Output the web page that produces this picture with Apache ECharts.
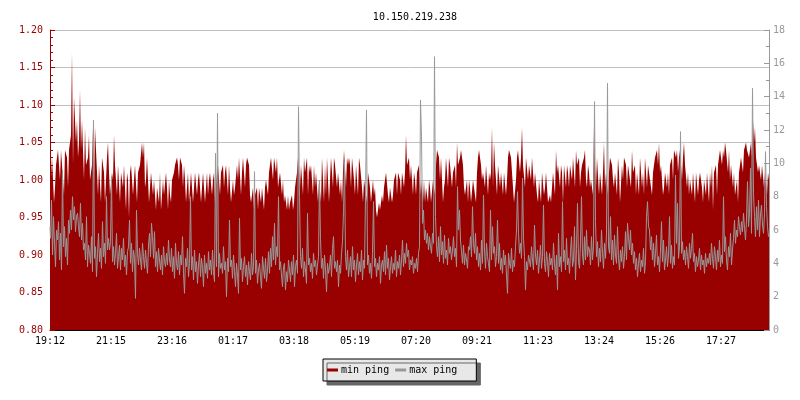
<!DOCTYPE html>
<html>
<head>
<meta charset="utf-8">
<script src="https://cdn.jsdelivr.net/npm/echarts@6/dist/echarts.min.js"></script>
<style>html,body{margin:0;padding:0;background:#fff}#c{width:800px;height:400px}</style>
</head>
<body>
<div id="c"></div>
<script>
var titleText = '10.150.219.238';
var tickLabels = ['19:12','21:15','23:16','01:17','03:18','05:19','07:20','09:21','11:23','13:24','15:26','17:27'];
var leftTicks = [0.80, 1.20, 0.05];
var rightTicks = [0, 18, 2];

var minPing = [
0.98,0.98,1.03,1.03,0.97,0.99,1.02,1.02,1.04,1.04,1.00,1.04,1.02,1.02,0.98,1.04,1.04,1.03,0.99,1.04,
1.05,1.06,1.17,1.02,1.11,1.11,1.05,1.08,1.03,1.05,1.12,1.04,1.08,1.08,1.00,1.07,1.02,1.02,1.03,1.06,
1.00,1.00,1.02,1.07,0.99,1.07,1.04,1.04,0.98,1.02,1.02,0.97,1.03,1.03,1.01,0.97,1.00,1.03,1.05,1.01,
0.98,0.98,1.01,1.00,1.06,1.02,1.02,0.98,1.02,1.02,0.97,1.01,1.01,0.99,1.02,1.02,0.96,1.01,1.00,0.95,
1.01,1.02,1.02,0.98,1.00,1.02,1.02,0.97,1.01,1.01,1.02,1.02,1.05,1.03,1.05,0.99,1.00,1.03,1.03,0.97,
0.97,1.01,1.01,0.98,1.00,1.00,0.96,0.99,0.99,0.97,1.01,0.96,0.96,1.00,0.98,0.98,1.01,0.99,0.96,1.00,
0.98,0.97,1.00,1.00,1.01,1.02,1.02,1.03,1.02,1.00,1.03,1.03,1.02,0.99,1.02,1.00,0.97,0.97,1.01,0.97,
0.99,1.01,1.01,0.97,0.99,1.01,1.01,0.98,1.00,1.01,1.01,0.97,0.99,1.01,1.01,0.97,0.99,1.01,0.98,1.00,
1.01,1.01,0.98,1.00,1.01,0.97,0.97,1.01,1.02,1.02,0.98,1.01,1.01,1.02,0.99,1.01,1.02,1.02,0.98,1.02,
0.99,0.97,0.97,1.00,0.98,0.99,0.99,1.02,1.00,1.03,1.03,0.98,1.01,1.03,1.03,0.99,1.02,1.03,1.03,1.02,
0.98,0.97,0.97,0.99,0.96,0.98,0.98,0.99,0.96,0.99,0.99,0.97,0.99,0.99,0.96,0.99,1.00,1.00,0.98,1.01,
1.02,1.03,1.03,1.00,1.03,1.03,1.01,1.03,0.99,1.00,1.01,1.01,0.98,1.00,0.97,0.98,0.98,0.96,0.98,0.96,
0.97,0.97,0.98,0.96,0.97,0.99,0.99,1.01,1.03,1.03,0.99,1.02,1.02,0.98,1.03,1.01,1.01,1.03,0.98,1.02,
1.01,1.02,1.02,0.98,1.02,0.99,1.01,1.01,0.97,1.00,1.00,0.97,1.03,1.03,0.97,1.02,0.98,1.03,1.03,0.97,
1.00,1.03,1.03,0.99,1.03,1.02,1.02,0.99,1.01,1.01,0.98,1.00,0.97,1.01,1.04,1.04,0.99,1.03,1.02,1.03,
1.02,0.99,1.03,1.03,1.00,0.98,1.02,1.02,0.98,1.03,1.02,1.02,0.99,0.97,1.00,1.00,0.98,0.97,1.01,1.00,
0.99,0.97,0.97,1.00,0.98,0.99,0.96,0.95,0.95,0.97,0.96,0.96,0.98,0.97,0.99,1.00,1.01,1.01,0.98,0.97,
0.99,0.99,0.97,0.98,1.00,1.00,1.01,0.98,1.01,1.01,1.00,0.98,1.01,1.01,0.99,1.01,1.06,1.02,1.02,1.03,
1.00,1.02,1.02,0.98,1.01,1.00,0.98,1.01,1.01,1.02,0.98,1.00,1.00,0.97,1.00,0.97,0.99,0.99,0.97,1.00,
0.99,0.97,0.97,1.00,1.00,0.98,1.02,1.04,1.04,1.03,1.00,1.03,1.03,0.97,0.99,1.00,1.03,1.03,0.99,1.03,
1.02,1.02,0.99,1.01,1.01,1.02,0.99,1.05,1.02,1.02,1.03,1.04,1.04,1.02,0.99,0.98,0.98,1.00,0.97,1.00,
0.99,0.97,0.97,1.00,0.99,0.99,0.97,1.01,1.03,1.04,1.04,1.02,1.00,1.01,1.01,0.99,1.02,1.02,0.98,1.01,
1.00,1.01,1.07,0.99,1.05,1.02,1.02,0.98,1.02,1.02,0.99,1.01,1.01,0.98,1.01,1.01,0.98,1.00,1.03,1.04,
1.04,1.03,1.03,0.99,0.97,0.97,1.00,1.03,1.04,1.04,1.01,1.03,1.07,1.02,1.02,0.99,1.03,1.03,1.00,1.02,
1.02,1.00,1.03,1.03,0.99,1.01,1.01,0.98,0.97,1.00,1.00,0.97,1.01,1.01,0.98,0.99,1.01,1.01,0.97,0.97,
0.98,0.97,0.99,1.01,1.01,0.98,1.04,1.01,1.02,1.02,0.99,1.02,1.01,0.97,1.02,1.02,0.99,1.02,1.01,0.99,
1.02,1.02,1.00,1.03,1.01,0.99,1.04,1.02,1.02,1.03,0.99,1.01,1.02,1.02,1.03,1.04,1.00,0.99,1.02,1.01,
0.99,1.00,1.00,0.98,1.07,1.02,0.99,1.03,1.03,0.98,1.01,1.01,0.98,1.01,1.05,0.99,1.01,1.01,0.98,1.01,
1.03,1.03,1.02,1.00,0.99,1.01,1.01,0.98,1.03,1.01,0.97,0.97,1.02,1.00,1.03,1.03,1.02,0.99,1.02,1.02,
1.00,0.99,1.04,1.01,1.01,1.02,0.98,1.01,1.01,0.98,1.03,1.03,0.99,1.01,0.98,1.03,1.03,0.99,1.02,1.01,
1.01,0.99,0.98,1.01,1.02,1.03,1.03,1.04,1.02,1.05,1.01,1.02,1.02,0.98,0.99,1.01,1.01,0.99,1.01,0.98,
1.02,1.02,1.03,1.00,1.04,1.04,1.03,1.04,1.01,1.03,1.04,1.04,1.00,1.03,1.05,1.02,1.02,0.99,1.01,0.98,
1.00,1.00,0.98,1.01,0.99,0.97,1.01,1.01,0.98,1.00,1.01,1.01,0.99,0.97,1.00,1.00,0.98,1.01,1.01,0.97,
1.01,0.99,1.02,0.96,1.01,1.01,1.02,0.98,1.02,1.03,1.04,1.04,1.02,1.04,1.03,1.05,1.04,1.04,1.01,1.04,
1.00,1.02,1.02,0.99,1.01,0.98,0.98,1.00,0.97,1.01,1.02,1.03,1.03,1.01,1.04,1.04,1.05,1.04,1.04,1.03,
1.04,1.05,1.03,1.08,1.05,1.07,1.03,1.03,1.01,1.02,1.02,1.00,1.02,1.02,0.99,1.01,1.01,0.98,1.01,1.00
];

var maxPing = [
6.2,5.5,7.8,4.5,6.8,5.2,3.8,6.0,5.4,6.5,4.2,5.8,3.6,9.6,5.0,6.2,4.4,5.5,3.9,6.6,
5.8,7.2,6.0,8.0,6.6,7.4,5.9,6.8,7.0,6.2,5.6,7.6,5.4,6.4,4.8,5.2,4.2,6.8,3.8,5.1,
4.6,4.0,5.6,3.5,12.6,4.3,5.0,3.2,4.6,5.8,4.1,4.9,3.7,6.5,4.4,5.2,4.0,8.0,4.8,5.5,
4.8,5.3,9.2,4.1,5.0,3.9,4.6,5.8,3.7,4.4,5.1,3.6,4.9,4.2,5.5,3.8,4.5,3.3,4.7,5.0,
6.6,4.0,5.2,3.5,4.8,4.3,1.9,7.2,4.6,3.9,4.9,4.2,3.6,5.2,4.4,3.7,4.8,4.0,3.4,5.1,
5.8,4.4,6.4,5.6,4.3,5.9,3.8,4.7,3.5,4.9,4.2,3.6,4.5,3.3,5.0,4.1,3.8,4.6,3.9,5.4,
4.2,3.8,4.9,3.5,4.4,3.1,5.2,4.0,3.6,4.7,3.3,4.5,3.9,5.6,3.4,2.2,4.3,3.8,4.9,3.2,
4.0,8.0,3.6,4.4,3.0,4.8,3.5,4.1,2.8,3.9,4.6,3.2,4.3,3.7,2.6,4.5,3.4,4.0,3.1,4.7,
3.6,4.2,3.3,4.8,3.5,2.9,10.6,3.8,13.0,3.2,4.6,3.7,4.0,3.4,5.0,3.6,4.1,2.0,4.3,3.5,
6.6,3.8,4.2,3.1,4.5,3.5,2.6,4.0,3.3,2.2,6.7,3.6,4.3,2.9,3.8,4.4,3.2,3.9,2.7,4.1,
3.5,3.0,4.6,3.3,3.8,9.5,3.4,4.2,2.8,3.6,4.0,3.2,2.5,4.4,3.7,3.1,4.3,2.9,3.6,4.7,
3.4,4.9,3.8,5.6,4.2,6.4,3.9,5.0,4.4,8.0,3.6,4.1,3.3,2.6,3.8,4.0,2.4,3.5,2.9,4.2,
3.6,2.9,4.1,3.3,4.5,2.6,3.8,4.2,3.4,13.4,8.0,4.4,3.7,4.9,3.2,4.1,3.6,2.8,7.0,3.9,
4.3,3.5,4.0,3.1,4.6,3.8,4.2,3.3,3.9,4.4,9.0,5.5,3.7,4.3,3.1,4.5,3.6,2.3,4.0,3.4,
3.8,4.5,3.2,4.9,5.6,3.7,4.1,3.5,4.2,2.6,3.9,3.4,4.6,5.3,7.1,10.1,4.4,3.6,4.8,3.2,
3.8,4.4,3.2,5.0,3.6,4.2,2.9,3.9,4.6,3.3,4.1,3.5,4.8,3.0,4.2,3.7,8.0,13.2,3.9,4.5,
3.4,4.0,3.1,4.6,7.7,3.8,4.3,3.2,4.0,3.6,4.4,2.8,3.9,4.2,3.5,4.7,3.3,5.1,3.7,4.3,
3.0,3.8,4.4,3.4,4.0,3.6,4.8,3.2,4.1,3.7,4.5,3.3,4.2,5.4,3.8,4.6,4.0,5.2,4.4,4.8,
3.6,4.2,3.9,4.4,3.4,4.0,3.7,4.3,3.5,4.6,5.0,13.8,11.6,6.4,7.2,5.4,6.0,5.2,5.8,4.8,
5.6,5.0,4.6,5.8,5.2,16.4,6.8,5.0,4.4,5.6,4.1,6.2,4.5,5.3,4.0,5.7,4.3,4.8,3.9,5.5,
4.6,5.0,4.2,4.8,5.6,4.4,4.9,3.8,8.6,6.0,7.2,5.4,4.7,4.0,5.1,3.9,4.6,4.2,3.7,5.0,
4.8,5.6,4.4,7.4,5.2,4.6,5.8,4.2,5.0,3.8,4.6,3.6,5.4,4.0,8.1,4.8,3.7,5.2,4.4,4.0,
3.5,7.2,4.2,6.2,4.6,5.0,3.8,4.4,6.6,4.0,5.2,3.6,4.3,3.4,4.8,3.9,4.5,3.3,2.2,4.6,
4.0,3.7,4.9,3.5,4.2,3.8,5.0,6.0,8.3,5.8,4.6,5.2,4.3,9.1,5.5,4.4,2.4,4.1,3.6,4.5,
4.4,3.8,5.0,4.2,3.6,6.3,4.5,3.9,4.8,3.4,4.2,5.1,3.7,4.4,7.5,4.0,3.5,4.7,4.1,3.2,
4.6,3.9,4.3,3.6,5.2,4.0,3.3,4.5,2.4,5.8,3.8,4.4,3.5,7.7,4.1,4.8,3.6,5.5,3.9,4.3,
3.4,4.7,5.6,3.8,4.2,6.2,3.0,4.9,7.6,4.1,3.7,5.3,8.0,4.5,3.9,5.6,4.2,6.0,4.4,5.0,
4.8,3.9,5.6,4.2,5.0,13.7,6.5,4.4,5.3,3.8,4.9,4.1,6.0,4.6,3.7,5.2,4.3,5.8,14.8,5.0,
4.6,6.8,4.2,5.4,3.9,5.7,4.5,4.0,6.2,4.3,3.6,4.8,4.1,5.0,3.7,4.4,5.9,4.2,6.4,5.5,
4.8,6.0,4.5,5.2,4.0,4.7,3.6,4.3,3.2,4.0,4.6,3.5,4.2,3.8,4.9,3.4,4.1,6.8,7.7,6.2,
6.0,4.8,5.6,4.2,5.2,3.8,4.6,5.7,3.9,4.4,3.5,4.8,6.5,4.1,5.4,3.6,4.2,5.0,3.8,4.5,
6.8,4.0,5.1,3.7,4.4,3.9,9.3,5.2,7.6,4.3,5.0,11.9,4.6,5.3,4.2,4.8,3.9,5.0,4.4,3.7,
5.2,4.3,4.9,5.8,4.1,4.6,3.5,4.4,3.8,4.2,4.9,3.6,4.5,3.9,4.2,3.4,4.6,3.8,4.3,4.0,
4.6,3.9,5.2,4.3,3.7,5.0,4.4,3.6,4.8,4.1,5.4,3.8,4.5,4.0,8.0,4.7,5.6,4.2,3.6,5.0,
4.4,5.8,3.9,4.8,5.5,6.6,5.2,6.0,5.6,6.8,6.2,5.7,6.5,5.9,7.0,6.1,5.4,6.6,8.9,6.2,
7.0,9.7,5.8,14.5,8.2,6.8,5.6,7.4,6.0,7.8,5.6,6.9,7.5,6.3,5.8,7.0,10.7,7.4,6.2,5.6
];

var RED = '#990000';
var GRAY = '#999999';
var FONT = 'DejaVu Sans Mono';
var labelStep = 61;
var categories = minPing.map(function (v, i) { return String(i); });

var chart = echarts.init(document.getElementById('c'), null, {renderer: 'canvas'});
chart.setOption({
  animation: false,
  backgroundColor: '#ffffff',
  title: {
    text: titleText, left: 410, top: 7, textAlign: 'center',
    textStyle: {fontFamily: FONT, fontSize: 10, fontWeight: 'normal', color: '#000'}
  },
  legend: {
    left: 323, top: 359,
    padding: [6, 19, 6, 4],
    itemGap: 6, itemWidth: 11, itemHeight: 3,
    backgroundColor: '#e8e8e8', borderColor: '#000', borderWidth: 1,
    shadowColor: '#666666', shadowBlur: 0, shadowOffsetX: 4, shadowOffsetY: 4,
    textStyle: {fontFamily: FONT, fontSize: 10, color: '#000', padding: [0, 0, 0, -2]},
    data: [
      {name: 'min ping', icon: 'rect', itemStyle: {color: RED}},
      {name: 'max ping', icon: 'rect', itemStyle: {color: GRAY}}
    ]
  },
  grid: {left: 50, right: 31, top: 30, bottom: 70, containLabel: false},
  xAxis: {
    type: 'category', data: categories, boundaryGap: false,
    axisLine: {lineStyle: {color: '#000', width: 1}},
    axisTick: {inside: true, length: 5, interval: labelStep - 1, lineStyle: {color: '#000'}},
    axisLabel: {
      interval: labelStep - 1, margin: 6, color: '#000', fontFamily: FONT, fontSize: 10,
      formatter: function (v, i) { return tickLabels[Math.round(i / labelStep)] || ''; }
    },
    splitLine: {show: false}
  },
  yAxis: [
    {
      type: 'value', min: leftTicks[0], max: leftTicks[1], interval: leftTicks[2], position: 'left',
      axisLine: {show: true, lineStyle: {color: RED}},
      axisTick: {show: true, inside: true, length: 5, lineStyle: {color: RED}},
      minorTick: {show: true, splitNumber: 5, length: 3, lineStyle: {color: RED}},
      axisLabel: {color: RED, fontFamily: FONT, fontSize: 10, margin: 7,
        formatter: function (v) { return v.toFixed(2); }},
      splitLine: {show: true, lineStyle: {color: '#c0c0c0', width: 1}}
    },
    {
      type: 'value', min: rightTicks[0], max: rightTicks[1], interval: rightTicks[2], position: 'right',
      axisLine: {show: true, lineStyle: {color: GRAY}},
      axisTick: {show: true, inside: true, length: 5, lineStyle: {color: GRAY}},
      minorTick: {show: true, splitNumber: 2, length: 3, lineStyle: {color: GRAY}},
      axisLabel: {color: GRAY, fontFamily: FONT, fontSize: 10, margin: 4},
      splitLine: {show: false}
    }
  ],
  series: [
    {
      name: 'min ping', type: 'line', yAxisIndex: 0, data: minPing, step: 'end',
      symbol: 'none', smooth: false,
      lineStyle: {color: RED, width: 0},
      itemStyle: {color: RED},
      areaStyle: {color: RED, opacity: 1},
      z: 2
    },
    {
      name: 'max ping', type: 'line', yAxisIndex: 1, data: maxPing, step: 'middle',
      symbol: 'none', smooth: false,
      lineStyle: {color: GRAY, width: 1},
      itemStyle: {color: GRAY},
      z: 3
    }
  ]
});
</script>
</body>
</html>
